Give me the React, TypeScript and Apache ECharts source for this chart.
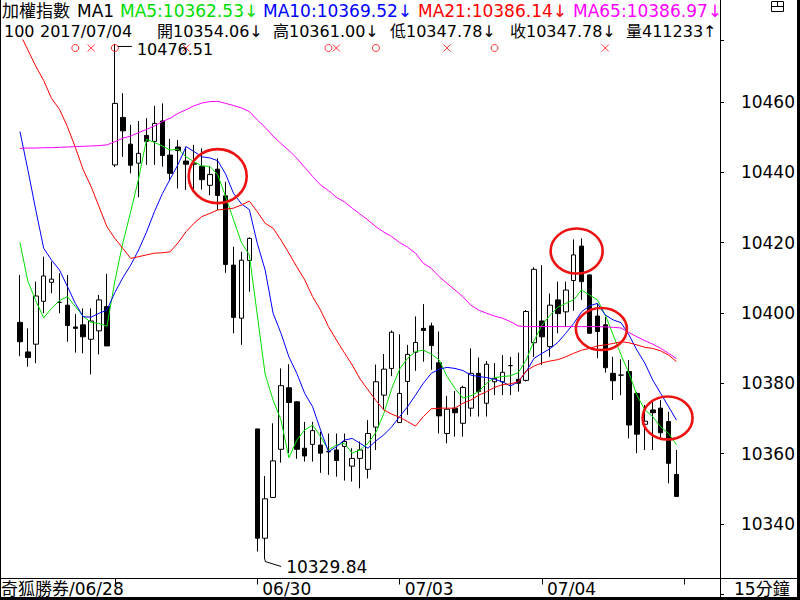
import React, { useEffect, useRef } from 'react';
import * as echarts from 'echarts';

// ---------- data ----------
const days = ['06/28', '06/29', '06/30', '07/03', '07/04', '07/05'];
const sessionTimes = ['09:00', '09:15', '09:30', '09:45', '10:00', '10:15', '10:30', '10:45', '11:00',
  '11:15', '11:30', '11:45', '12:00', '12:15', '12:30', '12:45', '13:00', '13:15'];
const firstDayFrom = 6;   // first visible bar of 06/28
const lastDaySlots = 5;   // empty slots of 07/05 on the axis

const opens = [
  10397.3, 10388.9, 10391.1, 10403.3, 10408.7, 10403.0, 10402.2, 10396.0, 10396.6, 10392.5, 10394.9, 10401.8,
  10442.1, 10455.6, 10448.0, 10442.6, 10450.5, 10448.8, 10454.6, 10444.9, 10447.2, 10443.2, 10442.3, 10441.7,
  10436.3, 10440.9, 10433.3, 10413.6, 10398.5, 10414.9,
  10367.0, 10335.9, 10347.5, 10361.2, 10378.7, 10374.7, 10361.5, 10362.6, 10362.4, 10360.5, 10361.0, 10362.0,
  10356.4, 10358.6, 10355.5, 10367.5, 10376.6, 10384.2,
  10368.8, 10380.5, 10388.8, 10395.6, 10396.3, 10385.8, 10365.7, 10372.9, 10368.6, 10372.9, 10382.8, 10374.3,
  10380.4, 10380.4, 10385.0, 10381.1, 10380.8, 10391.5,
  10397.7, 10390.4, 10403.7, 10400.3, 10409.2, 10419.0, 10410.8, 10399.1, 10396.6, 10382.8, 10382.3, 10383.3,
  10377.1, 10368.3, 10372.4, 10372.9, 10369.1, 10354.06,
];
const highs = [
  10410.8, 10395.6, 10408.9, 10416.0, 10414.6, 10411.3, 10410.8, 10399.7, 10401.3, 10401.3, 10405.1, 10411.1,
  10476.51, 10462.5, 10453.5, 10454.6, 10455.4, 10458.9, 10459.6, 10449.5, 10449.2, 10447.3, 10447.8, 10446.8,
  10441.6, 10444.0, 10437.3, 10418.8, 10417.4, 10421.5,
  10367.0, 10353.6, 10368.6, 10384.2, 10385.4, 10374.9, 10369.0, 10369.0, 10366.2, 10365.7, 10365.7, 10365.7,
  10361.5, 10363.4, 10369.5, 10385.3, 10388.3, 10395.0,
  10393.9, 10390.9, 10399.0, 10402.5, 10397.2, 10394.7, 10376.4, 10377.8, 10379.3, 10389.9, 10387.3, 10386.3,
  10385.7, 10388.0, 10387.5, 10388.7, 10400.8, 10413.0,
  10413.6, 10405.5, 10408.9, 10408.9, 10420.9, 10421.2, 10411.0, 10402.7, 10398.9, 10387.5, 10386.8, 10386.6,
  10377.5, 10373.8, 10375.2, 10375.2, 10371.9, 10361.0,
];
const lows = [
  10387.7, 10384.7, 10385.7, 10399.9, 10405.6, 10399.9, 10391.8, 10388.7, 10388.5, 10382.5, 10388.2, 10390.6,
  10441.5, 10444.4, 10439.7, 10432.9, 10442.1, 10442.1, 10441.6, 10437.5, 10435.4, 10435.0, 10434.5, 10435.1,
  10433.5, 10429.3, 10411.4, 10394.2, 10390.9, 10406.0,
  10332.1, 10329.84, 10347.5, 10357.4, 10360.1, 10358.5, 10357.7, 10357.7, 10354.5, 10353.9, 10353.4, 10352.3,
  10352.0, 10350.1, 10352.9, 10361.0, 10372.4, 10382.0,
  10368.8, 10371.0, 10383.5, 10386.1, 10383.8, 10365.7, 10362.9, 10364.8, 10364.8, 10370.5, 10370.5, 10370.5,
  10376.6, 10376.6, 10376.6, 10377.6, 10380.5, 10387.5,
  10385.2, 10387.5, 10394.2, 10396.0, 10400.6, 10403.7, 10394.0, 10387.1, 10383.0, 10375.2, 10376.6, 10364.3,
  10360.1, 10361.0, 10361.0, 10363.8, 10351.5, 10347.78,
];
const closes = [
  10391.8, 10387.3, 10404.8, 10410.5, 10409.6, 10403.0, 10396.4, 10395.6, 10393.2, 10397.7, 10403.7, 10390.6,
  10459.6, 10451.8, 10442.0, 10445.4, 10448.8, 10453.9, 10444.8, 10439.7, 10446.2, 10442.3, 10442.6, 10437.9,
  10439.4, 10433.4, 10413.8, 10398.7, 10415.0, 10421.2,
  10335.9, 10347.1, 10357.9, 10379.3, 10374.5, 10361.2, 10359.3, 10366.5, 10360.1, 10360.5, 10358.0, 10363.4,
  10358.6, 10361.0, 10365.7, 10380.4, 10384.0, 10394.5,
  10377.1, 10388.2, 10391.6, 10395.0, 10390.7, 10370.7, 10372.6, 10371.6, 10378.8, 10382.8, 10377.6, 10385.4,
  10381.4, 10383.1, 10385.0, 10380.0, 10400.4, 10412.4,
  10393.2, 10402.2, 10399.8, 10406.5, 10416.5, 10408.9, 10394.2, 10394.7, 10384.4, 10380.7, 10382.3, 10368.1,
  10365.5, 10369.2, 10371.6, 10365.9, 10357.2, 10347.78,
];

const ma5 = [
  10420.0, 10409.0, 10403.5, 10398.6, 10401.3, 10403.5, 10404.6, 10401.8, 10399.0, 10397.3, 10397.0, 10396.2,
  10409.1, 10419.8, 10428.8, 10438.2, 10449.4, 10448.5, 10447.5, 10446.3, 10446.6, 10444.4, 10443.0, 10441.8,
  10441.7, 10439.3, 10433.1, 10426.5, 10420.0, 10416.5,
  10399.5, 10382.5, 10375.2, 10369.5, 10358.8, 10363.8, 10366.7, 10368.1, 10364.8, 10361.0, 10362.4, 10362.9,
  10360.1, 10361.0, 10362.9, 10366.0, 10371.4, 10378.5,
  10384.0, 10387.1, 10389.0, 10389.4, 10388.3, 10386.6, 10381.9, 10378.5, 10375.8, 10376.4, 10377.6, 10380.0,
  10381.6, 10381.9, 10382.1, 10383.0, 10386.6, 10392.1,
  10396.5, 10399.3, 10401.6, 10402.7, 10403.7, 10406.5, 10405.1, 10403.7, 10399.4, 10393.7, 10388.0, 10382.8,
  10376.6, 10372.4, 10370.5, 10367.6, 10365.7, 10362.53,
];
const ma10 = [
  10451.6, 10440.7, 10429.3, 10418.4, 10415.0, 10412.2, 10407.5, 10402.7, 10398.9, 10398.8, 10399.9, 10400.8,
  10405.8, 10410.0, 10413.6, 10417.9, 10423.0, 10428.8, 10433.9, 10438.1, 10442.3, 10447.3, 10445.9, 10444.4,
  10444.1, 10443.3, 10439.5, 10434.0, 10431.0, 10429.4,
  10419.8, 10412.2, 10399.9, 10394.2, 10387.5, 10382.8, 10377.1, 10373.3, 10366.7, 10360.5, 10361.9, 10363.8,
  10364.3, 10362.9, 10361.5, 10363.6, 10365.3, 10367.6,
  10370.5, 10373.3, 10376.6, 10380.0, 10382.8, 10384.0, 10384.5, 10384.2, 10383.6, 10382.3, 10381.9, 10381.6,
  10381.1, 10380.4, 10379.2, 10380.4, 10383.3, 10387.1,
  10388.5, 10389.8, 10391.6, 10394.2, 10397.0, 10400.3, 10402.0, 10402.7, 10399.4, 10398.0, 10397.2, 10393.7,
  10389.4, 10385.7, 10380.9, 10377.1, 10373.3, 10369.52,
];
const ma21 = [
  10479.5, 10474.8, 10470.2, 10466.1, 10461.0, 10457.9, 10453.0, 10447.1, 10440.7, 10435.9, 10430.2, 10424.5,
  10421.2, 10418.4, 10415.5, 10416.0, 10416.5, 10417.0, 10417.1, 10417.4, 10420.0, 10423.1, 10425.5, 10427.4,
  10428.3, 10429.3, 10429.5, 10429.8, 10430.7, 10431.8,
  10428.8, 10425.5, 10424.1, 10420.7, 10417.0, 10413.1, 10409.4, 10404.6, 10400.8, 10396.1, 10392.3, 10388.7,
  10385.2, 10381.2, 10378.1, 10375.1, 10372.4, 10371.2,
  10370.3, 10369.1, 10367.8, 10370.5, 10372.7, 10372.9, 10372.9, 10372.9, 10374.3, 10375.2, 10376.6, 10377.6,
  10378.8, 10379.6, 10379.8, 10380.4, 10383.5, 10384.9,
  10385.8, 10386.3, 10386.7, 10387.5, 10388.5, 10389.4, 10389.9, 10390.6, 10390.9, 10391.3, 10391.8, 10391.5,
  10390.9, 10390.2, 10389.9, 10389.2, 10388.0, 10386.14,
];
const ma65 = [
  10446.8, 10446.9, 10446.9, 10447.0, 10447.0, 10447.1, 10447.2, 10447.3, 10447.4, 10447.5, 10447.6, 10447.8,
  10448.7, 10449.7, 10450.3, 10451.3, 10452.2, 10453.2, 10454.4, 10455.4, 10456.8, 10457.8, 10458.9, 10459.7,
  10460.1, 10460.2, 10459.6, 10459.0, 10458.3, 10457.3,
  10454.9, 10452.8, 10450.3, 10448.2, 10446.2, 10444.0, 10441.4, 10438.8, 10436.4, 10434.8, 10432.9, 10431.6,
  10429.8, 10428.1, 10426.4, 10424.5, 10423.0, 10421.7,
  10420.0, 10418.7, 10417.0, 10414.1, 10412.7, 10410.3, 10408.4, 10406.5, 10404.6, 10402.2, 10400.8, 10399.9,
  10399.1, 10398.5, 10397.5, 10396.3, 10396.1, 10396.1,
  10396.1, 10396.1, 10396.1, 10396.1, 10396.1, 10396.1, 10396.1, 10396.1, 10396.0, 10395.9, 10395.7, 10394.4,
  10393.2, 10392.1, 10391.1, 10389.9, 10388.5, 10386.97,
];

const buySignals = [7, 12, 39, 45, 60];
const sellSignals = [9, 21, 40, 54, 74];
const highMark = [12, 10476.51];
const lowMark = [31, 10329.84];
const yMin = 10320;
const yTickStep = 20;
const yLabelFrom = 10340;
const yLabelTo = 10460;

const maHeader = ['MA5:10362.53↓', 'MA10:10369.52↓', 'MA21:10386.14↓', 'MA65:10386.97↓'];
const quoteHeader = ['100', '2017/07/04', '開10354.06↓', '高10361.00↓', '低10347.78↓', '收10347.78↓', '量411233↑'];
// annotation circles: [bar index, value]
const circleMarks = [[25, 10438.9], [70, 10417.6], [73, 10395.4], [82, 10370.1]];

// ---------- layout / style ----------
const FONT_FAMILY = '"DejaVu Sans", "Noto Sans CJK TC", sans-serif';
const FONT17 = `17px ${FONT_FAMILY}`;
const FONT16 = `16px ${FONT_FAMILY}`;
const C_MA5 = '#00e000';
const C_MA10 = '#0000ff';
const C_MA21 = '#ff0000';
const C_MA65 = '#ff00ff';
const maHeaderX = [120, 263, 418, 573];
const maHeaderColor = ['#00dd00', C_MA10, C_MA21, C_MA65];
const quoteHeaderX = [4, 40, 157, 273, 390, 510, 626];
const circleGeom = [
  { dx: 0, rx: 29, ry: 27 },
  { dx: 3, rx: 26, ry: 22.5 },
  { dx: 4, rx: 25.5, ry: 21 },
  { dx: -1, rx: 25, ry: 21.5 },
];

const PLOT_TOP = 40;
const PX_PER_PT = 3.515;
const Y_AT_10460 = 102;
const plotBottom = Y_AT_10460 + (10460 - yMin) * PX_PER_PT;
const yMax = 10460 + (Y_AT_10460 - PLOT_TOP) / PX_PER_PT;

function buildCategories(): string[] {
  const out: string[] = [];
  days.forEach((d, di) => {
    const from = di === 0 ? firstDayFrom : 0;
    const to = di === days.length - 1 ? lastDaySlots : sessionTimes.length;
    for (let k = from; k < to; k++) out.push(`${d} ${sessionTimes[k]}`);
  });
  return out;
}

function txt(x: number, y: number, text: string, fill = '#000', font = FONT17) {
  return {
    type: 'text', x, y, z: 100, silent: true,
    style: {
      text, fill, font,
      align: 'left', verticalAlign: 'middle', textAlign: 'left', textVerticalAlign: 'middle',
    },
  };
}
function ln(x1: number, y1: number, x2: number, y2: number, w = 1, stroke = '#000') {
  return { type: 'line', z: 100, silent: true, shape: { x1, y1, x2, y2 }, style: { stroke, lineWidth: w } };
}

export default function App() {
  const ref = useRef<HTMLDivElement>(null);

  useEffect(() => {
    document.body.style.margin = '0';
    const chart = echarts.init(ref.current as HTMLDivElement, null, { renderer: 'svg', width: 800, height: 600 });
    const categories = buildCategories();
    const ohlc = opens.map((o, i) => [o, closes[i], lows[i], highs[i]]);
    const isDayStart = (i: number) => i % sessionTimes.length === (sessionTimes.length - firstDayFrom) % sessionTimes.length;
    const lastIdx = categories.length - lastDaySlots;

    const lineSeries = (name: string, data: number[], color: string) => ({
      type: 'line', name, data, xAxisIndex: 0, yAxisIndex: 0, symbol: 'none', silent: true,
      lineStyle: { color, width: 1 }, clip: true, z: 3,
    });

    const option: any = {
      animation: false,
      backgroundColor: '#ffffff',
      grid: [
        { left: 16, right: 80, top: PLOT_TOP, height: plotBottom - PLOT_TOP },
        { left: 16, right: 80, top: 577.5, height: 1 },
        { left: 16, right: 80, top: 44, height: 8 },
      ],
      xAxis: [
        { gridIndex: 0, type: 'category', data: categories, boundaryGap: true, show: false },
        {
          gridIndex: 1, type: 'category', data: categories, boundaryGap: true,
          axisLine: { show: false },
          axisTick: {
            show: true, alignWithLabel: true, length: 6, lineStyle: { color: '#000', width: 1 },
            interval: (i: number) => isDayStart(i),
          },
          axisLabel: {
            show: true, interval: (i: number) => isDayStart(i) && i > firstDayFrom + 6 && i < lastIdx,
            formatter: (v: string) => v.split(' ')[0],
            align: 'left', verticalAlign: 'top', padding: [0, 0, 0, 5], margin: 2,
            fontSize: 17, fontFamily: FONT_FAMILY, color: '#000',
          },
          splitLine: { show: false },
        },
        { gridIndex: 2, type: 'category', data: categories, boundaryGap: true, show: false },
      ],
      yAxis: [
        {
          gridIndex: 0, type: 'value', position: 'right', min: yMin, max: yMax, interval: yTickStep,
          axisLine: { show: true, lineStyle: { color: '#000', width: 1 } },
          axisTick: { show: true, length: 4, lineStyle: { color: '#000', width: 1 } },
          minorTick: { show: true, splitNumber: 4, length: 1, lineStyle: { color: '#000', width: 1 } },
          splitLine: { show: false },
          axisLabel: {
            show: true, margin: 75, align: 'right', fontSize: 17, fontFamily: FONT_FAMILY, color: '#000',
            showMinLabel: false, showMaxLabel: false,
            formatter: (v: number) => (v >= yLabelFrom && v <= yLabelTo && Math.abs(v % yTickStep) < 1e-6 ? String(v) : ''),
          },
        },
        { gridIndex: 1, type: 'value', show: false },
        { gridIndex: 2, type: 'value', show: false, min: 0, max: 2 },
      ],
      series: [
        {
          type: 'candlestick', name: '加權指數', data: ohlc, xAxisIndex: 0, yAxisIndex: 0, barWidth: 5,
          silent: true, clip: true, z: 2,
          itemStyle: { color: '#ffffff', color0: '#000000', borderColor: '#000000', borderColor0: '#000000', borderWidth: 1 },
        },
        lineSeries('MA5', ma5, C_MA5),
        lineSeries('MA10', ma10, C_MA10),
        lineSeries('MA21', ma21, C_MA21),
        lineSeries('MA65', ma65, C_MA65),
        {
          type: 'scatter', xAxisIndex: 2, yAxisIndex: 2, silent: true, z: 5,
          data: buySignals.map((i) => [i, 1]), symbol: 'circle', symbolSize: 7,
          itemStyle: { color: 'rgba(0,0,0,0)', borderColor: '#ff0000', borderWidth: 1 },
        },
        {
          type: 'scatter', xAxisIndex: 2, yAxisIndex: 2, silent: true, z: 5,
          data: sellSignals.map((i) => [i, 1]), symbol: 'path://M0,0L10,10M10,0L0,10', symbolSize: 7,
          itemStyle: { color: 'rgba(0,0,0,0)', borderColor: '#ff0000', borderWidth: 1 },
        },
      ],
    };
    chart.setOption(option);

    const px = (p: number[]) => chart.convertToPixel({ gridIndex: 0 } as any, p) as number[];
    const [hx, hy] = px(highMark);
    const [lx, ly] = px(lowMark);

    const graphic: any[] = [];
    // frame
    graphic.push(ln(0.5, 0, 0.5, 600));
    graphic.push(ln(720.5, 0, 720.5, 598));
    graphic.push(ln(0, 578.5, 800, 578.5));
    graphic.push(ln(0, 598.5, 800, 598.5, 3));
    graphic.push(ln(798.5, 0, 798.5, 600, 3));
    // window icon
    graphic.push({ type: 'rect', z: 100, silent: true, shape: { x: 771.5, y: 1.5, width: 12, height: 10 }, style: { fill: 'none', stroke: '#000', lineWidth: 1 } });
    graphic.push(ln(771.5, 6.5, 783.5, 6.5));
    graphic.push(ln(777.5, 1.5, 777.5, 6.5));
    // header line 1
    graphic.push(txt(2, 11, '加權指數'));
    graphic.push(txt(77, 11, 'MA1'));
    maHeader.forEach((t, i) => graphic.push(txt(maHeaderX[i], 11, t, maHeaderColor[i])));
    // header line 2
    quoteHeader.forEach((t, i) => graphic.push(txt(quoteHeaderX[i], 31, t, '#000', FONT16)));
    // bottom labels
    graphic.push(txt(1, 589, '奇狐勝券/06/28'));
    graphic.push(txt(734, 589, '15分鐘'));
    // high / low annotations
    graphic.push(ln(hx + 3, hy + 2.5, hx + 17, hy + 2.5));
    graphic.push(txt(hx + 22, hy + 6, String(highMark[1]), '#000', FONT16));
    graphic.push({ type: 'polyline', z: 100, silent: true, shape: { points: [[lx, ly], [lx, ly + 2], [lx + 16, ly + 7]] }, style: { fill: 'none', stroke: '#000', lineWidth: 1 } });
    graphic.push(txt(lx + 21, ly + 7, String(lowMark[1].toFixed(2))));
    // red circles
    circleMarks.forEach((m, i) => {
      const [cx, cy] = px(m);
      const g = circleGeom[i];
      graphic.push({
        type: 'ellipse', z: 110, silent: true,
        shape: { cx: cx + g.dx, cy, rx: g.rx, ry: g.ry },
        style: { fill: 'none', stroke: '#ee1111', lineWidth: 2.6 },
      });
    });
    chart.setOption({ graphic });

    return () => chart.dispose();
  }, []);

  return (
    <div
      ref={ref}
      style={{ position: 'absolute', left: 0, top: 0, width: 800, height: 600, background: '#ffffff' }}
    />
  );
}
